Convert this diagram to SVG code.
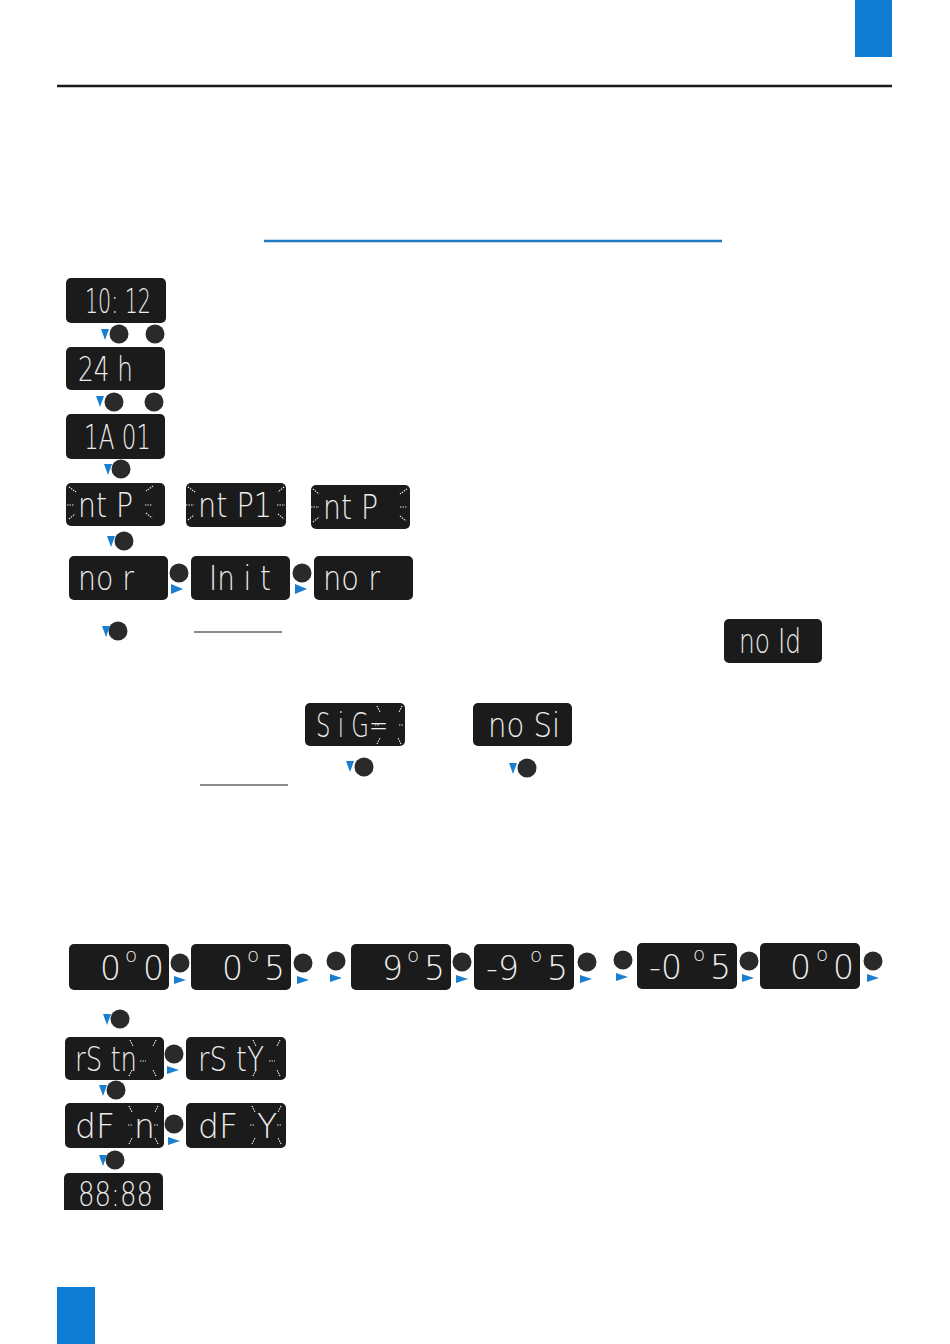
<svg xmlns="http://www.w3.org/2000/svg" width="950" height="1344" viewBox="0 0 950 1344">
<defs>
<style>
.lcd{fill:#1b1b1b}
.seg{font-family:"DejaVu Sans","Liberation Sans",sans-serif;font-weight:200;font-size:33px;fill:#ededed}
.deg{font-family:"DejaVu Sans","Liberation Sans",sans-serif;font-weight:200;font-size:20px;fill:#ededed}
.fl{stroke:#ededed;stroke-width:1.2;stroke-dasharray:1.4 1.1;fill:none}
.btn{fill:#2a2a2a}
.tri{fill:#1a7fd0}
.blue{fill:#0f7dd4}
</style>
</defs>
<rect id="tab-top" class="blue" x="855" y="0" width="37" height="57"/>
<rect id="tab-bottom" class="blue" x="57" y="1287" width="38" height="57"/>
<line id="rule" x1="57" y1="86" x2="892" y2="86" stroke="#1a1a1a" stroke-width="2.5"/>
<line id="title-underline" x1="264" y1="241" x2="722" y2="241" stroke="#1f78c1" stroke-width="2.5"/>
<line id="underline-1" x1="194" y1="632" x2="282" y2="632" stroke="#1a1a1a" stroke-width="1.2"/>
<line id="underline-2" x1="200" y1="785" x2="288" y2="785" stroke="#1a1a1a" stroke-width="1.2"/>

<g id="d1"><rect class="lcd" x="66" y="278" width="100" height="45" rx="5"/><text class="seg" x="85" y="313" textLength="66" lengthAdjust="spacingAndGlyphs">10: 12</text></g>
<g id="d2"><rect class="lcd" x="66" y="347" width="99" height="43" rx="5"/><text class="seg" x="78" y="381" textLength="55" lengthAdjust="spacingAndGlyphs">24 h</text></g>
<g id="d3"><rect class="lcd" x="66" y="414" width="99" height="45" rx="5"/><text class="seg" x="84" y="449" textLength="67" lengthAdjust="spacingAndGlyphs">1A 01</text></g>
<g id="d4"><rect class="lcd" x="66" y="483" width="99" height="43" rx="5"/><text class="seg" x="78" y="517" textLength="55" lengthAdjust="spacingAndGlyphs">nt P</text>
<path class="fl" d="M69 487L76 492M67 505H74M69 519L75 514M153 486L146 491M145 505H152M146 513L152 518"/></g>
<g id="d5"><rect class="lcd" x="186" y="483" width="100" height="44" rx="5"/><text class="seg" x="198" y="517" textLength="74" lengthAdjust="spacingAndGlyphs">nt P1</text>
<path class="fl" d="M188 487L195 492M186 505H194M188 520L194 515M284 487L278 492M277 505H285M278 514L284 519"/></g>
<g id="d6"><rect class="lcd" x="311" y="485" width="99" height="44" rx="5"/><text class="seg" x="323" y="519" textLength="55" lengthAdjust="spacingAndGlyphs">nt P</text>
<path class="fl" d="M313 489L319 494M311 507H319M313 522L319 517M407 489L400 494M400 507H407M400 516L406 521"/></g>
<g id="d7"><rect class="lcd" x="69" y="556" width="99" height="44" rx="5"/><text class="seg" x="78" y="590" textLength="56" lengthAdjust="spacingAndGlyphs">no r</text></g>
<g id="d8"><rect class="lcd" x="191" y="556" width="99" height="44" rx="5"/><text class="seg" x="209" y="590" textLength="62" lengthAdjust="spacingAndGlyphs">In i t</text></g>
<g id="d9"><rect class="lcd" x="314" y="556" width="99" height="44" rx="5"/><text class="seg" x="323" y="590" textLength="57" lengthAdjust="spacingAndGlyphs">no r</text></g>
<g id="d10"><rect class="lcd" x="724" y="619" width="98" height="44" rx="5"/><text class="seg" x="739" y="653" textLength="62" lengthAdjust="spacingAndGlyphs">no Id</text></g>
<g id="d11"><rect class="lcd" x="305" y="703" width="100" height="43" rx="5"/><text class="seg" x="316" y="737" textLength="72" lengthAdjust="spacingAndGlyphs">S i G=</text>
<path class="fl" d="M377 706L380 712M402 706L399 712M375 725H379M399 725H404M377 744L380 738M401 744L398 738"/></g>
<g id="d12"><rect class="lcd" x="473" y="703" width="99" height="43" rx="5"/><text class="seg" x="488" y="737" textLength="72" lengthAdjust="spacingAndGlyphs">no Si</text></g>

<g id="d13"><rect class="lcd" x="69" y="944" width="100" height="46" rx="5"/><text class="seg" x="100" y="980">0</text><text class="deg" x="125" y="962">o</text><text class="seg" x="143" y="980">0</text></g>
<g id="d14"><rect class="lcd" x="191" y="944" width="100" height="46" rx="5"/><text class="seg" x="222" y="980">0</text><text class="deg" x="247" y="962">o</text><text class="seg" x="264" y="980">5</text></g>
<g id="d15"><rect class="lcd" x="351" y="944" width="100" height="46" rx="5"/><text class="seg" x="382" y="980">9</text><text class="deg" x="407" y="962">o</text><text class="seg" x="424" y="980">5</text></g>
<g id="d16"><rect class="lcd" x="474" y="944" width="100" height="46" rx="5"/><text class="seg" x="486" y="980">-9</text><text class="deg" x="530" y="962">o</text><text class="seg" x="547" y="980">5</text></g>
<g id="d17"><rect class="lcd" x="637" y="943" width="100" height="46" rx="5"/><text class="seg" x="649" y="979">-0</text><text class="deg" x="693" y="961">o</text><text class="seg" x="710" y="979">5</text></g>
<g id="d18"><rect class="lcd" x="760" y="943" width="100" height="46" rx="5"/><text class="seg" x="790" y="979">0</text><text class="deg" x="816" y="961">o</text><text class="seg" x="833" y="979">0</text></g>

<g id="d19"><rect class="lcd" x="65" y="1037" width="99" height="43" rx="5"/><text class="seg" x="75" y="1071" textLength="62" lengthAdjust="spacingAndGlyphs">rS tn</text>
<path class="fl" d="M130 1040L133 1046M156 1040L153 1046M140 1061H146M129 1076L132 1070M156 1076L153 1070"/></g>
<g id="d20"><rect class="lcd" x="186" y="1037" width="100" height="43" rx="5"/><text class="seg" x="198" y="1071" textLength="66" lengthAdjust="spacingAndGlyphs">rS tY</text>
<path class="fl" d="M253 1040L256 1046M280 1040L277 1046M269 1061H275M253 1076L256 1070M280 1076L277 1070"/></g>
<g id="d21"><rect class="lcd" x="65" y="1103" width="99" height="45" rx="5"/><text class="seg" x="75" y="1138">dF</text><text class="seg" x="134" y="1138">n</text>
<path class="fl" d="M129 1106L132 1112M158 1106L155 1112M128 1125H133M154 1125H159M129 1144L132 1138M158 1144L155 1138"/></g>
<g id="d22"><rect class="lcd" x="186" y="1103" width="100" height="45" rx="5"/><text class="seg" x="198" y="1138">dF</text><text class="seg" x="257" y="1138">Y</text>
<path class="fl" d="M252 1106L255 1112M281 1106L278 1112M250 1125H255M277 1125H282M252 1144L255 1138M281 1144L278 1138"/></g>
<g id="d23"><rect class="lcd" x="64" y="1173" width="99" height="37" rx="5"/><rect class="lcd" x="64" y="1200" width="99" height="10"/><text class="seg" x="78" y="1206" textLength="75" lengthAdjust="spacingAndGlyphs">88:88</text></g>

<g id="buttons">
<circle class="btn" cx="119" cy="334" r="9.5"/><circle class="btn" cx="155" cy="334" r="9.5"/>
<circle class="btn" cx="114" cy="402" r="9.5"/><circle class="btn" cx="154" cy="402" r="9.5"/>
<circle class="btn" cx="121" cy="469" r="9.5"/>
<circle class="btn" cx="124" cy="541" r="9.5"/>
<circle class="btn" cx="179" cy="573" r="9.5"/><circle class="btn" cx="302" cy="573" r="9.5"/>
<circle class="btn" cx="118" cy="631" r="9.5"/>
<circle class="btn" cx="364" cy="767" r="9.5"/><circle class="btn" cx="527" cy="768" r="9.5"/>
<circle class="btn" cx="180" cy="963" r="9.5"/><circle class="btn" cx="303" cy="963" r="9.5"/>
<circle class="btn" cx="336" cy="961" r="9.5"/><circle class="btn" cx="462" cy="962" r="9.5"/>
<circle class="btn" cx="587" cy="962" r="9.5"/><circle class="btn" cx="623" cy="960" r="9.5"/>
<circle class="btn" cx="749" cy="961" r="9.5"/><circle class="btn" cx="873" cy="961" r="9.5"/>
<circle class="btn" cx="120" cy="1019" r="9.5"/>
<circle class="btn" cx="174" cy="1054" r="9.5"/>
<circle class="btn" cx="116" cy="1090" r="9.5"/>
<circle class="btn" cx="174" cy="1124" r="9.5"/>
<circle class="btn" cx="115" cy="1160" r="9.5"/>
</g>

<g id="connectors">
<path class="tri" d="M101 329H109L105 340Z"/>
<path class="tri" d="M96 396H104L100 407Z"/>
<path class="tri" d="M104 464H112L108 475Z"/>
<path class="tri" d="M107 536H115L111 547Z"/>
<path class="tri" d="M102 626H110L106 637Z"/>
<path class="tri" d="M346 761H354L350 772Z"/>
<path class="tri" d="M509 763H517L513 774Z"/>
<path class="tri" d="M103 1014H111L107 1025Z"/>
<path class="tri" d="M99 1085H107L103 1096Z"/>
<path class="tri" d="M99 1155H107L103 1166Z"/>
<path class="tri" d="M171 584V594L183 589Z"/>
<path class="tri" d="M295 584V594L307 589Z"/>
<path class="tri" d="M174 976V984L186 980Z"/>
<path class="tri" d="M297 976V984L309 980Z"/>
<path class="tri" d="M330 974V982L342 978Z"/>
<path class="tri" d="M456 975V983L468 979Z"/>
<path class="tri" d="M580 975V983L592 979Z"/>
<path class="tri" d="M616 973V981L628 977Z"/>
<path class="tri" d="M742 974V982L754 978Z"/>
<path class="tri" d="M867 974V982L879 978Z"/>
<path class="tri" d="M167 1066V1074L179 1070Z"/>
<path class="tri" d="M168 1137V1145L180 1141Z"/>
</g>
</svg>
